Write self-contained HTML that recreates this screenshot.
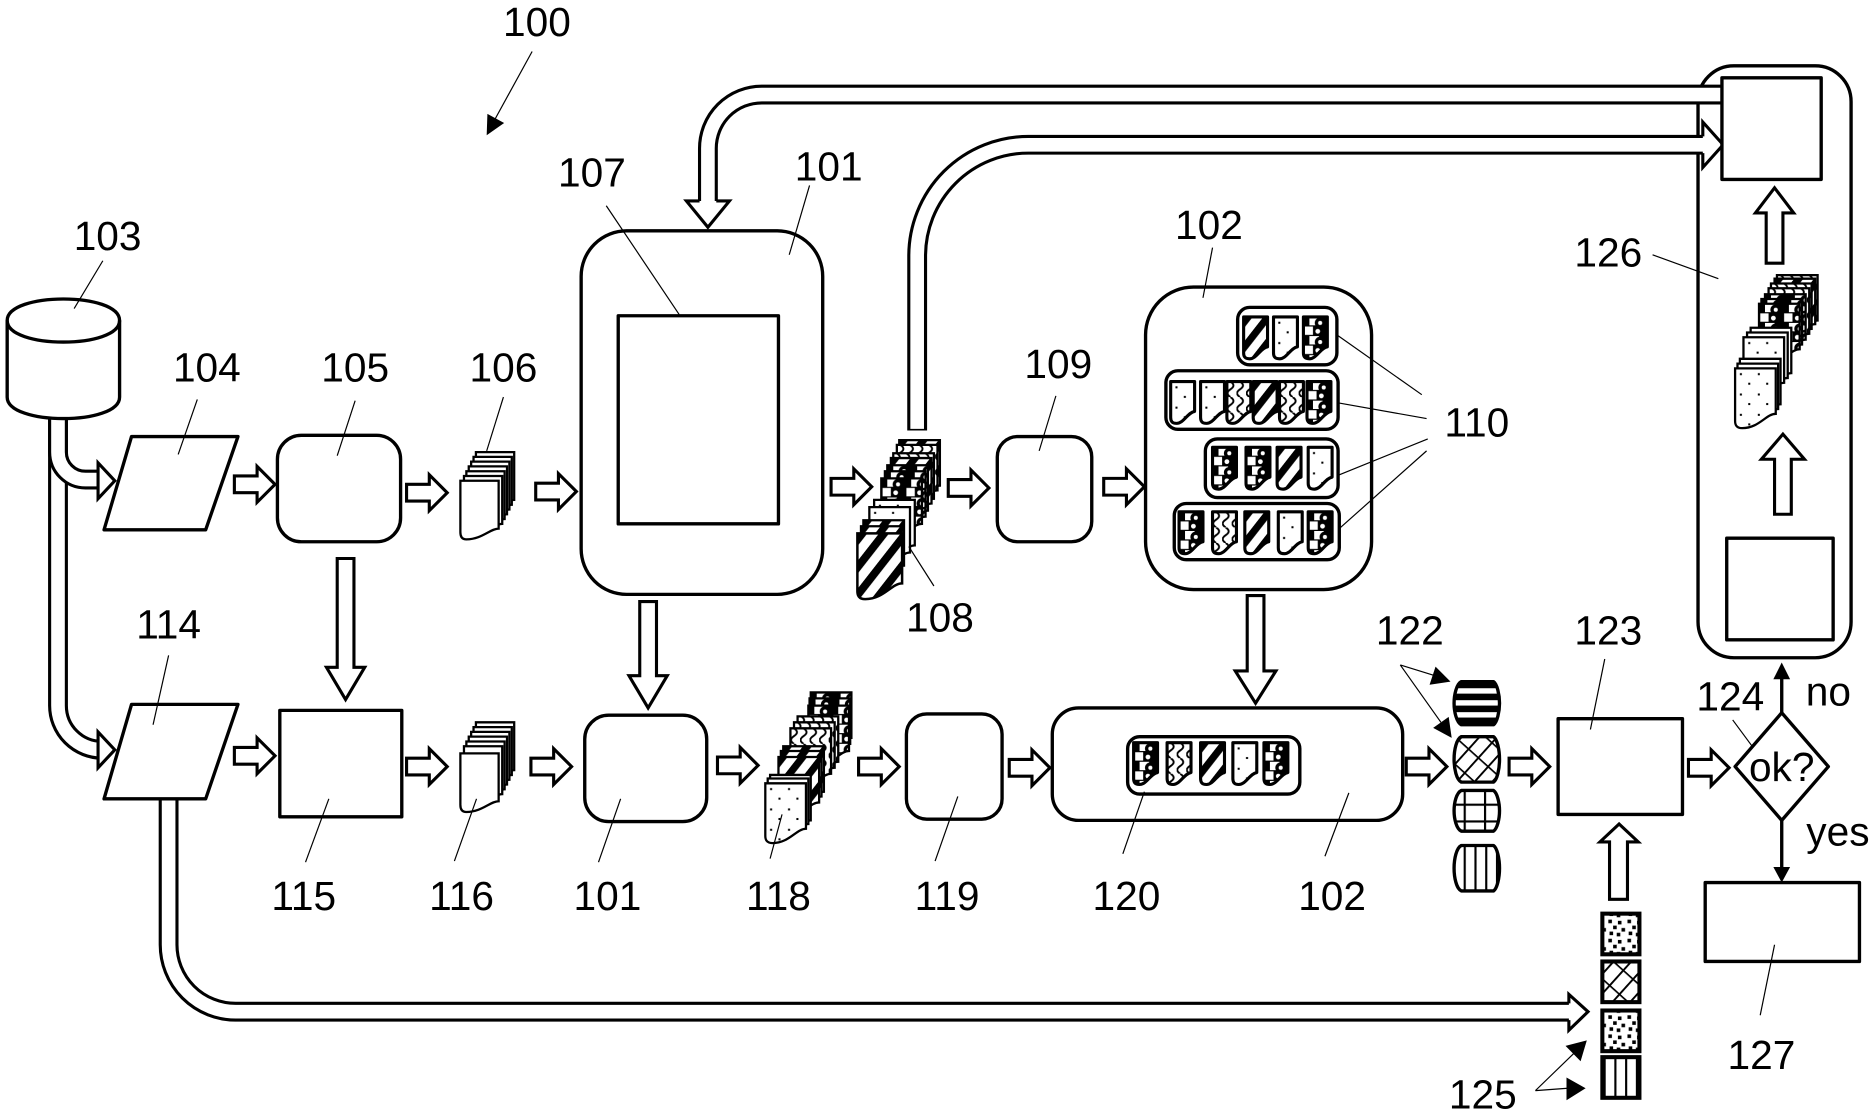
<!DOCTYPE html>
<html><head><meta charset="utf-8"><title>Diagram 100</title>
<style>html,body{margin:0;padding:0;background:#fff}svg{display:block}
text{font-family:"Liberation Sans",sans-serif;font-size:34px;fill:#000;text-anchor:middle}
.s{fill:#fff;stroke:#000;stroke-width:2.8;stroke-linejoin:round}
.p{stroke:#000;stroke-width:3.4;stroke-linejoin:miter}
.h{fill:#fff;stroke:#000;stroke-width:2.6;stroke-linejoin:miter}
.l{fill:none;stroke:#000;stroke-width:1}
.m{fill:none;stroke:#000;stroke-width:2.8}
.cb{fill:none;stroke:#000;stroke-width:16.6}
.cw{fill:none;stroke:#fff;stroke-width:11.4}
.t{stroke:#000;stroke-width:2.6;stroke-linejoin:round}
.q{stroke:#000;stroke-width:1.9}
</style></head><body>
<svg xmlns="http://www.w3.org/2000/svg" width="1875" height="1117" viewBox="0 0 1568 934">
<defs>
<pattern id="pS" patternUnits="userSpaceOnUse" width="13" height="13" patternTransform="rotate(38)"><rect width="13" height="13" fill="#fff"/><rect width="6" height="13" fill="#000"/></pattern>
<pattern id="pD" patternUnits="userSpaceOnUse" width="15" height="17"><rect width="15" height="17" fill="#fff"/><rect x="4" y="4" width="1.7" height="1.7"/><rect x="11" y="12" width="1.7" height="1.7"/></pattern>
<pattern id="pB" patternUnits="userSpaceOnUse" width="20" height="16"><rect width="20" height="16" fill="#000"/><rect x="5" y="0" width="8" height="7" fill="#fff"/><rect x="1" y="8" width="7" height="7" fill="#fff"/><circle cx="14" cy="5" r="4.5" fill="#000"/><circle cx="14" cy="5" r="1.7" fill="#fff"/><circle cx="12" cy="12" r="2" fill="#fff"/></pattern>
<pattern id="pW" patternUnits="userSpaceOnUse" width="8" height="13"><rect width="8" height="13" fill="#fff"/><path d="M3 0Q8 3.300 3 6.500Q-2 9.800 3 13" fill="none" stroke="#000" stroke-width="1.6"/></pattern>
<pattern id="pN" patternUnits="userSpaceOnUse" width="16" height="16"><rect width="16" height="16" fill="#fff"/><rect x="1" y="1" width="3" height="3"/><rect x="9" y="2" width="3" height="3"/><rect x="5" y="6" width="3" height="3"/><rect x="12" y="8" width="3" height="3"/><rect x="2" y="11" width="3" height="3"/><rect x="8" y="12" width="3" height="3"/></pattern>
<pattern id="pX" patternUnits="userSpaceOnUse" width="11" height="17" patternTransform="rotate(42)"><rect width="11" height="17" fill="#fff"/><rect width="1.6" height="17"/><rect width="11" height="1.4"/></pattern>
<pattern id="pH" patternUnits="userSpaceOnUse" width="10" height="10"><rect width="10" height="10" fill="#fff"/><rect width="10" height="5.5" fill="#000"/></pattern>
<pattern id="pV" patternUnits="userSpaceOnUse" width="9" height="9"><rect width="9" height="9" fill="#fff"/><rect width="1.8" height="9"/></pattern>
<pattern id="pG" patternUnits="userSpaceOnUse" width="17" height="14"><rect width="17" height="14" fill="#fff"/><rect width="1.8" height="14"/><rect width="17" height="1.8"/></pattern>
<path id="tag" class="t" d="M0 0H20V25C14 26 11 35 5 35C1 35 0 33 0 30Z"/>
<path id="doc" class="q" d="M0 0H34V38C26 38 20 50 6 50C1 50 0 47 0 44Z"/>
<path id="pap" class="q" fill="#fff" d="M0 0H32V40C25 40 18 49 5 49C1 49 0 46 0 43Z"/>
<path id="rarr" class="h" d="M0-7H19V-15L34 0L19 15V7H0Z"/>
</defs>
<rect width="1568" height="934" fill="#fff"/>

<!-- 126 outer -->
<rect class="s" x="1420" y="55" width="128" height="495" rx="30"/>

<!-- conduits -->
<path class="cb" d="M48.500 348V590A37 37 0 0 0 85.500 627H84"/><path class="cw" d="M48.500 348V590A37 37 0 0 0 85.500 627H84"/>
<path class="cb" d="M48.500 350V378A23 23 0 0 0 71.500 401H84"/><path class="cw" d="M48.500 350V378A23 23 0 0 0 71.500 401H84"/>
<path class="h" d="M82 394V387L96 402L82 417V408Z"/>
<path class="h" d="M82 620V612L96 627L82 642V634Z"/>
<path class="cb" d="M141 668V790A56 56 0 0 0 197 846H1314"/><path class="cw" d="M141 666V790A56 56 0 0 0 197 846H1316"/>
<path class="h" d="M1312 839V831.500L1328 846L1312 861.500V853"/>
<path class="cb" d="M1440 79H637A45 45 0 0 0 592 124V170"/><path class="cw" d="M1440 79H637A45 45 0 0 0 592 124V172"/>
<path class="h" d="M585 168H574L592 190L610 168H599"/>
<path class="cb" d="M767 360V214A93 93 0 0 1 860 121H1426"/><path class="cw" d="M767 358.600V214A93 93 0 0 1 860 121H1428"/>
<path class="h" d="M1424 114V102L1441 121L1424 140V128"/>

<!-- database -->
<path class="s" d="M6 268C6 244 100 244 100 268V332C100 356 6 356 6 332Z"/>
<path class="m" d="M6 268C6 292 100 292 100 268"/>

<!-- boxes -->
<path class="s" d="M110 365H199L172 443H87Z"/>
<rect class="s" x="232" y="364" width="103" height="89" rx="20"/>
<rect class="s" x="486" y="193" width="202" height="304" rx="38"/>
<rect class="s" x="517" y="264" width="134" height="174"/>
<rect class="s" x="834" y="365" width="79" height="88" rx="17"/>
<rect class="s" x="958" y="240" width="189" height="253" rx="40"/>
<rect class="s" x="1035" y="257" width="83" height="48" rx="10"/>
<rect class="s" x="975" y="310" width="144" height="49" rx="10"/>
<rect class="s" x="1008" y="367" width="111" height="49" rx="10"/>
<rect class="s" x="982" y="421" width="138" height="47" rx="10"/>
<path class="s" d="M110 589H199L172 668H87Z"/>
<rect class="s" x="234" y="594" width="102" height="89"/>
<rect class="s" x="489" y="598" width="102" height="89" rx="20"/>
<rect class="s" x="758" y="597" width="80" height="88" rx="17"/>
<rect class="s" x="880" y="592" width="293" height="94" rx="22"/>
<rect class="s" x="943" y="616" width="144" height="48" rx="10"/>
<rect class="s" x="1303" y="601" width="104" height="80"/>
<path class="s" d="M1490 596L1529 641L1490 686L1451 641Z"/>
<rect class="s" x="1426" y="738" width="129" height="66"/>
<rect class="s" x="1440" y="65" width="83" height="85"/>
<rect class="s" x="1444" y="450" width="89" height="85"/>

<!-- group tags -->
<use href="#tag" x="1040" y="265" fill="url(#pS)"/><use href="#tag" x="1065" y="265" fill="url(#pD)"/><use href="#tag" x="1090" y="265" fill="url(#pB)"/>
<use href="#tag" x="979" y="319" fill="url(#pD)"/><use href="#tag" x="1004" y="319" fill="url(#pD)"/><use href="#tag" x="1026" y="319" fill="url(#pW)"/><use href="#tag" x="1048" y="319" fill="url(#pS)"/><use href="#tag" x="1070" y="319" fill="url(#pW)"/><use href="#tag" x="1093" y="319" fill="url(#pB)"/>
<use href="#tag" x="1014" y="374" fill="url(#pB)"/><use href="#tag" x="1042" y="374" fill="url(#pB)"/><use href="#tag" x="1068" y="374" fill="url(#pS)"/><use href="#tag" x="1094" y="374" fill="url(#pD)"/>
<use href="#tag" x="986" y="428" fill="url(#pB)"/><use href="#tag" x="1014" y="428" fill="url(#pW)"/><use href="#tag" x="1041" y="428" fill="url(#pS)"/><use href="#tag" x="1069" y="428" fill="url(#pD)"/><use href="#tag" x="1094" y="428" fill="url(#pB)"/>
<use href="#tag" x="948" y="621" fill="url(#pB)"/><use href="#tag" x="976" y="621" fill="url(#pW)"/><use href="#tag" x="1004" y="621" fill="url(#pS)"/><use href="#tag" x="1031" y="621" fill="url(#pD)"/><use href="#tag" x="1057" y="621" fill="url(#pB)"/>

<!-- stack 106 -->
<use href="#pap" x="398" y="378"/><use href="#pap" x="396" y="382"/><use href="#pap" x="394" y="386"/><use href="#pap" x="392" y="390"/><use href="#pap" x="390" y="394"/><use href="#pap" x="388" y="398"/><use href="#pap" x="385" y="402"/>
<!-- stack 116 -->
<use href="#pap" x="398" y="604"/><use href="#pap" x="396" y="608"/><use href="#pap" x="394" y="612"/><use href="#pap" x="392" y="616"/><use href="#pap" x="390" y="620"/><use href="#pap" x="388" y="624"/><use href="#pap" x="385" y="630"/>

<!-- stack 108 -->
<use href="#doc" x="752" y="368" fill="url(#pS)"/><use href="#doc" x="750" y="372" fill="url(#pW)"/><use href="#doc" x="747" y="379" fill="url(#pW)"/><use href="#doc" x="745" y="383" fill="url(#pS)"/><use href="#doc" x="742" y="389" fill="url(#pB)"/><use href="#doc" x="740" y="394" fill="url(#pB)"/><use href="#doc" x="737" y="400" fill="url(#pB)"/><use href="#doc" x="731" y="418" fill="url(#pD)"/><use href="#doc" x="727" y="424" fill="url(#pD)"/><use href="#doc" x="722" y="435" fill="url(#pS)"/><use href="#doc" x="720" y="440" fill="url(#pS)"/><use href="#doc" transform="translate(717 446) scale(1.1)" fill="url(#pS)"/>

<!-- stack 118 -->
<use href="#doc" x="678" y="579" fill="url(#pB)"/><use href="#doc" x="677" y="584" fill="url(#pB)"/><use href="#doc" x="676" y="590" fill="url(#pB)"/><use href="#doc" x="667" y="599" fill="url(#pW)"/><use href="#doc" x="664" y="604" fill="url(#pW)"/><use href="#doc" x="661" y="609" fill="url(#pW)"/><use href="#doc" x="655" y="624" fill="url(#pS)"/><use href="#doc" x="653" y="628" fill="url(#pS)"/><use href="#doc" x="651" y="633" fill="url(#pS)"/><use href="#doc" x="644" y="648" fill="url(#pD)"/><use href="#doc" x="642" y="651" fill="url(#pD)"/><use href="#doc" x="640" y="655" fill="url(#pD)"/>

<!-- stack 126 -->
<use href="#doc" x="1486" y="230" fill="url(#pW)"/><use href="#doc" x="1484" y="233" fill="url(#pS)"/><use href="#doc" x="1481" y="237" fill="url(#pW)"/><use href="#doc" x="1479" y="241" fill="url(#pW)"/><use href="#doc" x="1476" y="246" fill="url(#pB)"/><use href="#doc" x="1473" y="250" fill="url(#pB)"/><use href="#doc" x="1471" y="254" fill="url(#pB)"/><use href="#doc" x="1464" y="274" fill="url(#pD)"/><use href="#doc" x="1461" y="278" fill="url(#pD)"/><use href="#doc" x="1458" y="282" fill="url(#pD)"/><use href="#doc" x="1455" y="300" fill="url(#pD)"/><use href="#doc" x="1453" y="304" fill="url(#pD)"/><use href="#doc" x="1451" y="308" fill="url(#pD)"/>

<!-- barrels -->
<path class="s" style="fill:url(#pH)" d="M1222 570H1249C1252 572 1254 581 1254 588C1254 595 1252 604 1249 606H1222C1218 604 1216 595 1216 588C1216 581 1218 572 1222 570Z"/>
<path class="s" style="fill:url(#pX)" d="M1222 616H1249C1252 618 1254 627 1254 635C1254 643 1252 652 1249 654H1222C1218 652 1216 643 1216 635C1216 627 1218 618 1222 616Z"/>
<path class="s" style="fill:url(#pG)" d="M1222 661H1249C1252 663 1254 671 1254 678C1254 685 1252 693 1249 695H1222C1218 693 1216 685 1216 678C1216 671 1218 663 1222 661Z"/>
<path class="s" style="fill:url(#pV)" d="M1222 707H1249C1252 709 1254 718 1254 726C1254 734 1252 743 1249 745H1222C1218 743 1216 734 1216 726C1216 718 1218 709 1222 707Z"/>

<!-- patches -->
<rect class="p" style="fill:url(#pN)" x="1340" y="764" width="31" height="34"/>
<rect class="p" style="fill:url(#pX)" x="1340" y="804" width="31" height="34"/>
<rect class="p" style="fill:url(#pN)" x="1340" y="845" width="31" height="34"/>
<rect class="p" style="fill:url(#pV)" x="1340" y="884" width="31" height="34"/>

<!-- horizontal block arrows -->
<use href="#rarr" x="196" y="405"/><use href="#rarr" x="340" y="412"/><use href="#rarr" x="448" y="411"/><use href="#rarr" x="695" y="407"/><use href="#rarr" x="793" y="408"/><use href="#rarr" x="923" y="407"/>
<use href="#rarr" x="196" y="632"/><use href="#rarr" x="340" y="641"/><use href="#rarr" x="444" y="641"/><use href="#rarr" x="600" y="640"/><use href="#rarr" x="718" y="641"/><use href="#rarr" x="844" y="642"/><use href="#rarr" x="1176" y="641"/><use href="#rarr" x="1262" y="641"/><use href="#rarr" x="1412" y="642"/>

<!-- vertical block arrows -->
<path class="h" d="M282 467H296V558H305L289 585L273 558H282Z"/>
<path class="h" d="M535 503H549V565H558L542 592L526 565H535Z"/>
<path class="h" d="M1043 498H1057V561H1067L1050 588L1033 561H1043Z"/>
<path class="h" d="M1477 220H1491V178H1500L1484 157L1468 178H1477Z"/>
<path class="h" d="M1484 430H1498V384H1509L1491 363L1473 384H1484Z"/>
<path class="h" d="M1346 752H1361V704H1370L1354 689L1338 704H1346Z"/>

<!-- decision arrows -->
<path class="m" d="M1490 596V565M1490 686V726"/>
<path d="M1490 554L1497 568H1483Z"/><path d="M1490 738L1483 725H1497Z"/>

<!-- leaders -->
<g class="l">
<path d="M445 43L411 105"/><path d="M86 218L62 258"/><path d="M165 334L149 380"/><path d="M297 335L282 381"/><path d="M421 332L407 377"/>
<path d="M507 172L568 263"/><path d="M677 155L660 213"/><path d="M1014 207L1006 249"/><path d="M883 331L869 377"/><path d="M760 457L781 490"/>
<path d="M1118 280L1189 330"/><path d="M1120 337L1193 350"/><path d="M1120 397L1194 367"/><path d="M1120 442L1193 377"/>
<path d="M1382 213L1437 233"/><path d="M141 548L128 606"/><path d="M255.500 721L275 668"/><path d="M380 720L398.500 668"/><path d="M500.500 721L519 668"/>
<path d="M644 718L654 681"/><path d="M782 720L801 666"/><path d="M939 714L957 662"/><path d="M1108 716L1128 663"/>
<path d="M1342 551L1330 610"/><path d="M1449 602L1466 625"/><path d="M1484 790L1472 849"/>
<path d="M1171 556L1200 565M1171 556L1205 604M1284 912L1316 881M1284 912L1311 910"/>
</g>
<path d="M407 113L421.600 102.800L407.600 95.200Z"/>
<path d="M1213 570L1195.500 572.600L1200.500 557.400Z"/><path d="M1214 617L1211.500 599.400L1198.500 608.600Z"/>
<path d="M1327 870L1321.800 887.400L1309.200 874.600Z"/><path d="M1326 910L1310 901V920Z"/>

<!-- labels -->
<text x="449" y="30">100</text><text x="90" y="209">103</text><text x="173" y="319">104</text><text x="297" y="319">105</text><text x="421" y="319">106</text>
<text x="495" y="156">107</text><text x="693" y="151">101</text><text x="1011" y="200">102</text><text x="885" y="316">109</text><text x="786" y="528">108</text>
<text x="1235" y="365">110</text><text x="1345" y="223">126</text><text x="1179" y="539">122</text><text x="1345" y="539">123</text><text x="1447" y="594">124</text>
<text x="1529" y="590">no</text><text x="1537" y="707">yes</text><text x="1490" y="653">ok?</text><text x="141" y="534">114</text><text x="254" y="761">115</text>
<text x="386" y="761">116</text><text x="508" y="761">101</text><text x="651" y="761">118</text><text x="792" y="761">119</text><text x="942" y="761">120</text>
<text x="1114" y="761">102</text><text x="1240" y="927">125</text><text x="1473" y="894">127</text>
</svg>
</body></html>
